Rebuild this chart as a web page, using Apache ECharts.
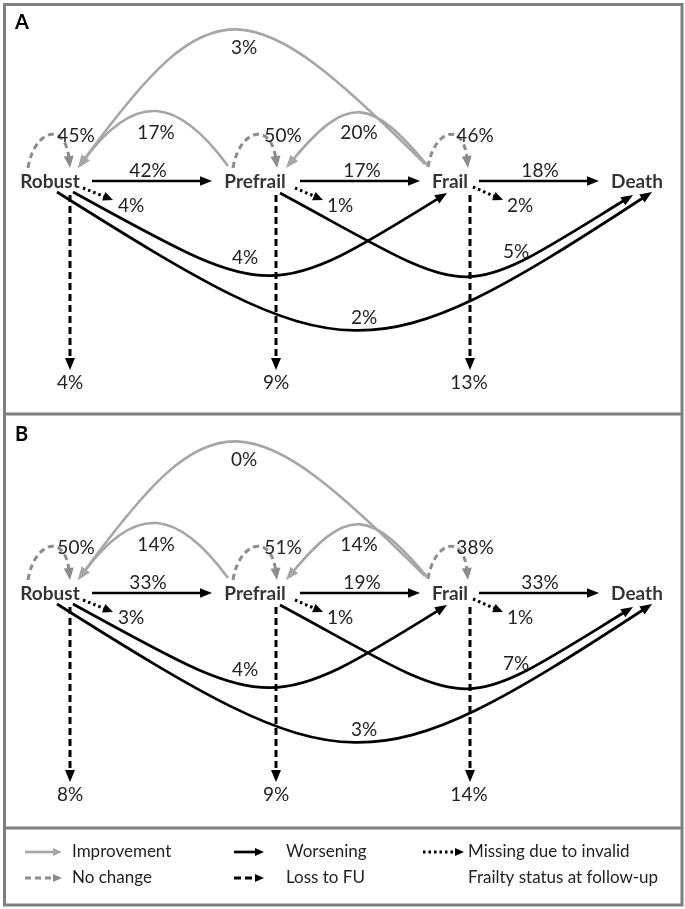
<!DOCTYPE html>
<html>
<head>
<meta charset="utf-8">
<script src="https://cdn.jsdelivr.net/npm/echarts@6/dist/echarts.min.js"></script>
<style>
html,body{margin:0;padding:0;background:#fff;}
#chart{width:685px;height:909px;}
</style>
</head>
<body>
<div id="chart"></div>
<script>
// ---------- DATA ----------
const states = ['Robust', 'Prefrail', 'Frail', 'Death'];
const panelTitles = ['A', 'B'];
// transition order (from → to)
const transitions = [
  'Robust→Robust', 'Prefrail→Prefrail', 'Frail→Frail',
  'Prefrail→Robust', 'Frail→Prefrail', 'Frail→Robust',
  'Robust→Prefrail', 'Prefrail→Frail', 'Frail→Death',
  'Robust→Missing', 'Prefrail→Missing', 'Frail→Missing',
  'Robust→Loss', 'Prefrail→Loss', 'Frail→Loss',
  'Robust→Frail', 'Prefrail→Death', 'Robust→Death'
];
const pctA = [45, 50, 46, 17, 20, 3, 42, 17, 18, 4, 1, 2, 4, 9, 13, 4, 5, 2];
const pctB = [50, 51, 38, 14, 14, 0, 33, 19, 33, 3, 1, 1, 8, 9, 14, 4, 7, 3];
const legendLabels = ['Improvement', 'No change', 'Worsening', 'Loss to FU',
  'Missing due to invalid', 'Frailty status at follow-up'];

// ---------- LAYOUT (positions / styles) ----------
const PANEL_H = 412;
const NODE_POS = [[50, 182], [255, 182], [450, 182], [637, 182]];
const GEOM = [
  {kind: 'same', path: [[28,168],[34,130],[66,130],[70,168]], label: [76,136]},
  {kind: 'same', path: [[233,168],[239,130],[272,130],[277,168]], label: [283,136]},
  {kind: 'same', path: [[428,167],[434,130],[464,130],[468,168]], label: [475,136]},
  {kind: 'improve', path: [[228,166],[178,98],[130,98],[78,168]], label: [156,133]},
  {kind: 'improve', path: [[428,166],[371,98],[342,101],[286,168]], label: [359,133]},
  {kind: 'improve', path: [[425,164],[248,-12],[207,-9],[78,168]], label: [244,48]},
  {kind: 'worse', path: [[92,181],[212,181]], label: [148,171]},
  {kind: 'worse', path: [[300,181],[420,181]], label: [362,171]},
  {kind: 'worse', path: [[479,181],[599,181]], label: [540,171]},
  {kind: 'miss', path: [[83,188],[113,200]], label: [131,206]},
  {kind: 'miss', path: [[295,188],[323,200]], label: [340,206]},
  {kind: 'miss', path: [[473,187],[503,200]], label: [520,206]},
  {kind: 'loss', path: [[70,195],[70,370]], label: [70,383]},
  {kind: 'loss', path: [[276,195],[276,370]], label: [276,383]},
  {kind: 'loss', path: [[470,195],[470,370]], label: [469,383]},
  {kind: 'worse', path: [[73,192],[270,300],[275,300],[447,193]], label: [245,258]},
  {kind: 'worse', path: [[280,193],[480,301],[460,301],[633,195]], label: [516,252]},
  {kind: 'worse', path: [[57,192],[345,373],[375,373],[652,192]], label: [364,318]}
];
const STYLE = {
  improve: {color: '#a6a6a6', width: 2.6, dash: null, L: 13, W: 5},
  same: {color: '#8c8c8c', width: 3, dash: [6, 4], L: 12, W: 5},
  worse: {color: '#000', width: 2.7, dash: null, L: 12, W: 4.8},
  loss: {color: '#000', width: 3, dash: [7, 4], L: 12, W: 5},
  miss: {color: '#000', width: 3, dash: [2.5, 3], L: 10, W: 4.5}
};
const LABEL_FONT = '19px Lato';
const LABEL_COLOR = '#222';

function arrowEls(pts, st) {
  const n = pts.length;
  const tip = pts[n - 1], prev = pts[n - 2];
  let dx = tip[0] - prev[0], dy = tip[1] - prev[1];
  const len = Math.hypot(dx, dy); dx /= len; dy /= len;
  const bx = tip[0] - dx * st.L, by = tip[1] - dy * st.L;
  const head = {
    type: 'polygon',
    shape: {points: [tip, [bx - dy * st.W, by + dx * st.W], [bx + dy * st.W, by - dx * st.W]]},
    style: {fill: st.color, stroke: null}
  };
  const sh = st.L * 0.8;
  const p = pts.map(q => q.slice());
  p[n - 1] = [tip[0] - dx * sh, tip[1] - dy * sh];
  if (n === 4) { p[2] = [pts[2][0] - dx * sh, pts[2][1] - dy * sh]; }
  const lineStyle = {stroke: st.color, lineWidth: st.width, fill: null, lineDash: st.dash || null, lineCap: 'butt'};
  let line;
  if (n === 4) {
    line = {type: 'bezierCurve', shape: {x1: p[0][0], y1: p[0][1], cpx1: p[1][0], cpy1: p[1][1],
      cpx2: p[2][0], cpy2: p[2][1], x2: p[3][0], y2: p[3][1]}, style: lineStyle};
  } else {
    line = {type: 'line', shape: {x1: p[0][0], y1: p[0][1], x2: p[1][0], y2: p[1][1]}, style: lineStyle};
  }
  return [line, head];
}

function renderEdge(params, api) {
  const i = api.value(0);
  const pct = api.value(1);
  const g = GEOM[i];
  const st = STYLE[g.kind];
  const pts = g.path.map(q => api.coord(q));
  const lp = api.coord(g.label);
  const children = arrowEls(pts, st);
  children.push({
    type: 'text',
    style: {text: pct + '%', x: lp[0], y: lp[1], font: LABEL_FONT, fill: LABEL_COLOR,
      align: 'center', verticalAlign: 'middle', textAlign: 'center', textVerticalAlign: 'middle'}
  });
  return {type: 'group', children};
}

const chart = echarts.init(document.getElementById('chart'), null, {renderer: 'canvas'});

const grids = [0, 1].map(k => ({left: 0, top: k * PANEL_H, width: 685, height: PANEL_H}));
const xAxes = [0, 1].map(k => ({gridIndex: k, type: 'value', min: 0, max: 685, show: false}));
const yAxes = [0, 1].map(k => ({gridIndex: k, type: 'value', min: 0, max: PANEL_H, inverse: true, show: false}));

const series = [];
[pctA, pctB].forEach((vals, k) => {
  series.push({
    type: 'custom', xAxisIndex: k, yAxisIndex: k, clip: false,
    data: vals.map((v, i) => [i, v]),
    renderItem: renderEdge, silent: true
  });
  series.push({
    type: 'scatter', xAxisIndex: k, yAxisIndex: k, symbolSize: 1,
    itemStyle: {color: 'rgba(255,255,255,0)'},
    data: states.map((s, i) => ({name: s, value: NODE_POS[i]})),
    label: {show: true, position: 'inside', formatter: '{b}', color: '#000',
      fontFamily: 'Lato', fontWeight: 'bold', fontSize: 19},
    silent: true, z: 5
  });
});

// legend + frame (graphic)
const BORDER = '#7f7f7f';
const graphic = [
  {type: 'rect', shape: {x: 4.5, y: 4.5, width: 677.5, height: 900.5}, style: {fill: null, stroke: BORDER, lineWidth: 3}, z: 10},
  {type: 'line', shape: {x1: 4.5, y1: 414, x2: 682, y2: 414}, style: {stroke: BORDER, lineWidth: 3}, z: 10},
  {type: 'line', shape: {x1: 4.5, y1: 828, x2: 682, y2: 828}, style: {stroke: BORDER, lineWidth: 3}, z: 10}
];
panelTitles.forEach((t, k) => {
  graphic.push({type: 'text', style: {text: t, x: 15, y: 23 + k * PANEL_H, font: 'bold 20px Lato', fill: '#000',
    textVerticalAlign: 'middle', verticalAlign: 'middle'}});
});
const legendItems = [
  {kind: 'improve', x: 25, tip: 62, y: 852, text: legendLabels[0], tx: 72},
  {kind: 'same', x: 25, tip: 62, y: 878, text: legendLabels[1], tx: 72},
  {kind: 'worse', x: 234, tip: 264, y: 852, text: legendLabels[2], tx: 286},
  {kind: 'loss', x: 234, tip: 264, y: 878, text: legendLabels[3], tx: 286},
  {kind: 'miss', x: 423, tip: 464, y: 852, text: legendLabels[4], tx: 468},
  {kind: null, y: 878, text: legendLabels[5], tx: 468}
];
legendItems.forEach(it => {
  if (it.kind) {
    const st = Object.assign({}, STYLE[it.kind], {L: 9, W: 4});
    const els = arrowEls([[it.x, it.y], [it.tip, it.y]], st);
    els.forEach(e => graphic.push(e));
  }
  graphic.push({type: 'text', style: {text: it.text, x: it.tx, y: it.y, font: '17px Lato', fill: '#222',
    textVerticalAlign: 'middle', verticalAlign: 'middle'}});
});

chart.setOption({
  animation: false,
  backgroundColor: '#fff',
  grid: grids, xAxis: xAxes, yAxis: yAxes,
  series, graphic
});
</script>
</body>
</html>
